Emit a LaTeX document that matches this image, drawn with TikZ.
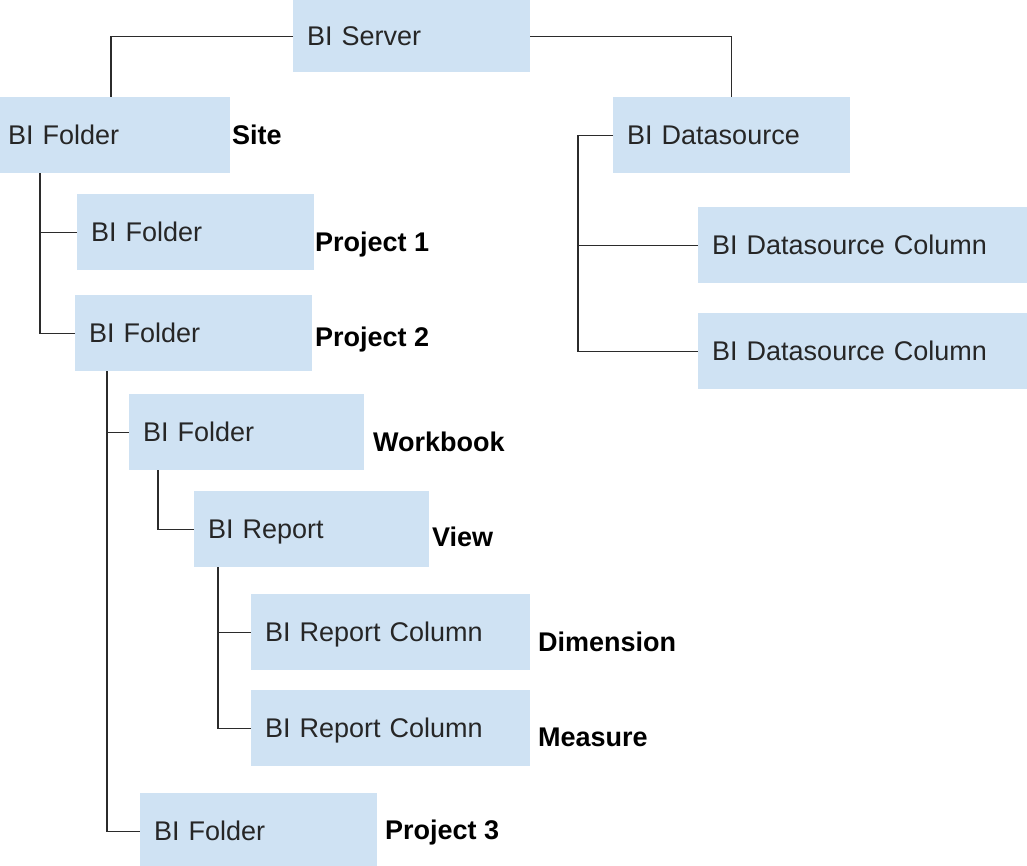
\documentclass[tikz,border=0pt]{standalone}
\usepackage{fontspec}
\setmainfont{Liberation Sans}
\usepackage{tikz}
\usetikzlibrary{calc,positioning}
\definecolor{boxblue}{HTML}{CFE2F3}
\definecolor{linegray}{HTML}{2B2B2B}

\begin{document}
\begin{tikzpicture}[x=1pt, y=-1pt]
        \tikzstyle{arr} = [line width=1.3pt, draw=linegray],
        \tikzstyle{item} = [shape=rectangle, fill=boxblue, anchor=north west, align=left, inner xsep=14pt, inner ysep=0pt, minimum height=76pt, text height=19.5pt, text depth=0pt, font=\fontsize{27}{32}\selectfont, text=black!85],
        \tikzstyle{role} = [anchor=west, inner sep=0pt, text height=19.5pt, text depth=0pt, font=\fontsize{27}{32}\selectfont\bfseries],
        \useasboundingbox (0,0) rectangle (1027,865);

        % top level
        \node [item, name=server, text width=209pt, minimum height=72pt] at (293,0) {BI Server};
        \node [item, name=site, text width=208pt, xshift=-6pt] at (0,97) {BI Folder};
        \node [item, name=ds, text width=209pt] at (613,97) {BI Datasource};

        % datasource side
        \node [item, name=dscol1, text width=301pt] at (698,207) {BI Datasource Column};
        \node [item, name=dscol2, text width=301pt] at (698,313) {BI Datasource Column};

        % site side
        \node [item, name=proj1, text width=209pt] at (77,194) {BI Folder};
        \node [item, name=proj2, text width=209pt] at (75,295) {BI Folder};
        \node [item, name=wb, text width=207pt] at (129,394) {BI Folder};
        \node [item, name=report, text width=207pt] at (194,491) {BI Report};
        \node [item, name=rcol1, text width=251pt] at (251,594) {BI Report Column};
        \node [item, name=rcol2, text width=251pt] at (251,690) {BI Report Column};
        \node [item, name=proj3, text width=209pt] at (140,793) {BI Folder};

        % roles
        \node [role, name=siteRole] at (232,135) {Site};
        \node [role, name=proj1Role] at (315,242) {Project 1};
        \node [role, name=proj2Role] at (315,337) {Project 2};
        \node [role, name=wbRole] at (373,442) {Workbook};
        \node [role, name=viewRole] at (432,537) {View};
        \node [role, name=dimRole] at (538,642) {Dimension};
        \node [role, name=measRole] at (538,737) {Measure};
        \node [role, name=proj3Role] at (385,830) {Project 3};

        % connectors
        \draw [arr] (server.west) -| ($(site.north west)+(117,0)$);
        \draw [arr] (server.east) -| (ds.north);

        \draw [arr] ($(site.south west)+(46,0)$) coordinate (siteTrunk) |- (proj2.west);
        \draw [arr] (siteTrunk |- proj1.west) -- (proj1.west);

        \draw [arr] (ds.west) -- ++(-35,0) coordinate (dsTrunk) |- (dscol2.west);
        \draw [arr] (dsTrunk |- dscol1.west) -- (dscol1.west);

        \draw [arr] ($(proj2.south west)+(32,0)$) coordinate (proj2Trunk) |- (proj3.west);
        \draw [arr] (proj2Trunk |- wb.west) -- (wb.west);

        \draw [arr] ($(wb.south west)+(29,0)$) |- (report.west);

        \draw [arr] ($(report.south west)+(24,0)$) coordinate (reportTrunk) |- (rcol2.west);
        \draw [arr] (reportTrunk |- rcol1.west) -- (rcol1.west);
\end{tikzpicture}
\end{document}
